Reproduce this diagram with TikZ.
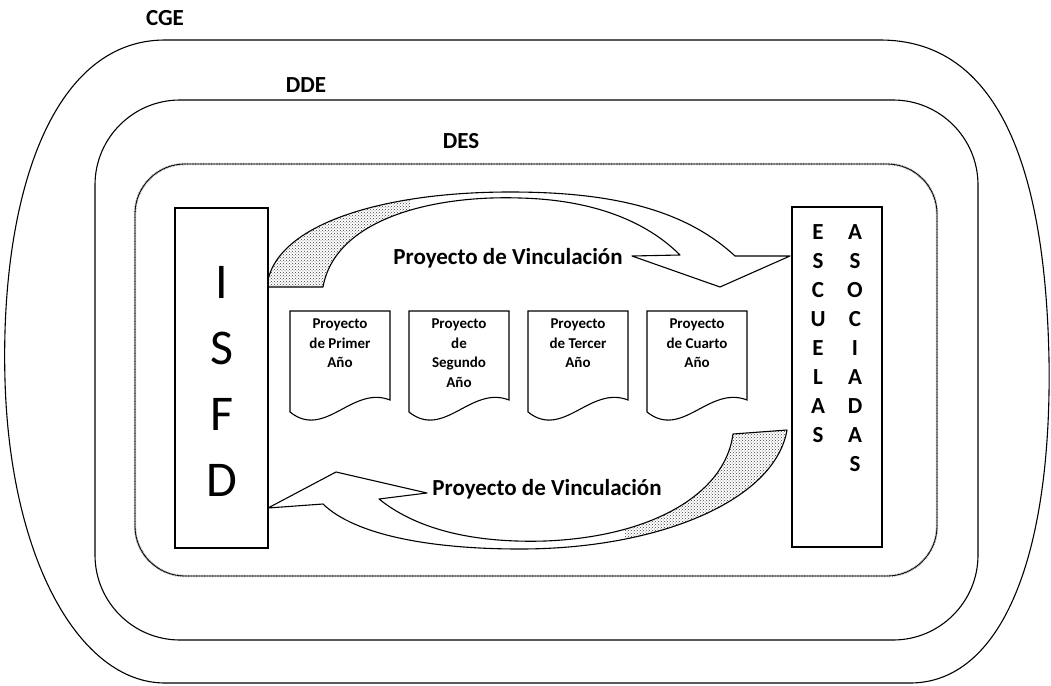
\documentclass[tikz,border=0pt]{standalone}
\usepackage{fontspec}
\setmainfont{Carlito}
\usetikzlibrary{patterns}

\begin{document}
\begin{tikzpicture}[x=1pt,y=-1pt]
\tikzstyle{rand} = [draw, line width=1.1pt]
\tikzstyle{desrand} = [draw, line width=0.8pt, preaction={draw, line width=2.4pt, black!45, dash pattern=on 0.7pt off 0.9pt}]
\tikzstyle{box} = [draw, line width=1.3pt, minimum width=93pt, minimum height=340pt, inner sep=0pt]
\tikzstyle{titel} = [font=\fontsize{23}{27}\selectfont\bfseries, inner sep=0pt]
\tikzstyle{buchstabe} = [font=\fontsize{23}{27}\selectfont\bfseries, inner sep=0pt]
\tikzstyle{doc} = [draw, line width=1.1pt]
\tikzstyle{doctext} = [font=\fontsize{15}{19.5}\selectfont\bfseries, align=center, anchor=north, inner sep=0pt]
\tikzstyle{pfeil} = [draw, line width=1.1pt, line join=round]
\tikzstyle{punkte} = [pattern=crosshatch dots, pattern color=black!75]

\useasboundingbox (0,0) rectangle (1051,685);

% CGE
\draw[rand] (165,40) -- (880,40) .. controls (990,40) and (1045,150) .. (1049,360)
    .. controls (1052,560) and (1000,683) .. (910,683) -- (165,683)
    .. controls (80,683) and (10,560) .. (5,380) .. controls (0,200) and (50,40) .. (165,40) -- cycle;
\node[titel] (cge) at (165,18) {CGE};

% DDE
\draw[rand, rounded corners=85pt] (95,100) rectangle (978,640);
\node[titel] (dde) at (306,85) {DDE};

% DES
\draw[desrand, rounded corners=50pt] (135,164) rectangle (937,576);
\node[titel] (des) at (461,141) {DES};

% ISFD und Escuelas
\node[box] (isfd) at (221.5,378) {};
\node[box, minimum width=90pt] (esc) at (837,377) {};
\foreach \b [count=\i from 0] in {I,S,F,D}
    \node[font=\fontsize{50}{54}\selectfont, inner sep=0pt] (isfd\i) at (222,282+66*\i) {\b};
\foreach \b [count=\i from 0] in {E,S,C,U,E,L,A,S}
    \node[buchstabe] (esc\i) at (818,232+29*\i) {\b};
\foreach \b [count=\i from 0] in {A,S,O,C,I,A,D,A,S}
    \node[buchstabe] (aso\i) at (855,232+29*\i) {\b};

% Pfeile
\def\toparrow{(268,280) .. controls (280,225) and (380,192) .. (510,192)
    .. controls (600,192) and (680,205) .. (735,256) -- (790,256) -- (720,287) -- (632,256) -- (680,255)
    .. controls (650,225) and (600,200) .. (520,198) .. controls (430,195) and (335,220) .. (323,287)
    -- (268,287) -- cycle}
\def\botarrow{(787,430) .. controls (775,500) and (660,549) .. (520,549)
    .. controls (430,549) and (355,535) .. (323,504) -- (268,508) -- (336,472) -- (427,493) -- (379,499)
    .. controls (420,532) and (480,543) .. (545,541) .. controls (650,537) and (725,495) .. (733,434)
    -- cycle}
\begin{scope}
    \clip (255,180) rectangle (410,300);
    \fill[punkte] \toparrow;
\end{scope}
\begin{scope}
    \clip (625,420) rectangle (800,560);
    \fill[punkte] \botarrow;
\end{scope}
\draw[pfeil] \toparrow;
\draw[pfeil] \botarrow;
\node[titel] (vinc1) at (508,258) {Proyecto de Vinculación};
\node[titel] (vinc2) at (547,489) {Proyecto de Vinculación};

% Proyectos
\foreach \x/\txt [count=\i] in {290/{Proyecto\\de Primer\\Año}, 409/{Proyecto\\de\\Segundo\\Año},
        528/{Proyecto\\de Tercer\\Año}, 647/{Proyecto\\de Cuarto\\Año}}{
    \draw[doc] (\x,311) -- (\x+100,311) -- (\x+100,400) .. controls (\x+62,385) and (\x+35,440) .. (\x,412) -- cycle;
    \node[doctext] (doc\i) at (\x+50,319) {\txt};
}
\end{tikzpicture}
\end{document}
